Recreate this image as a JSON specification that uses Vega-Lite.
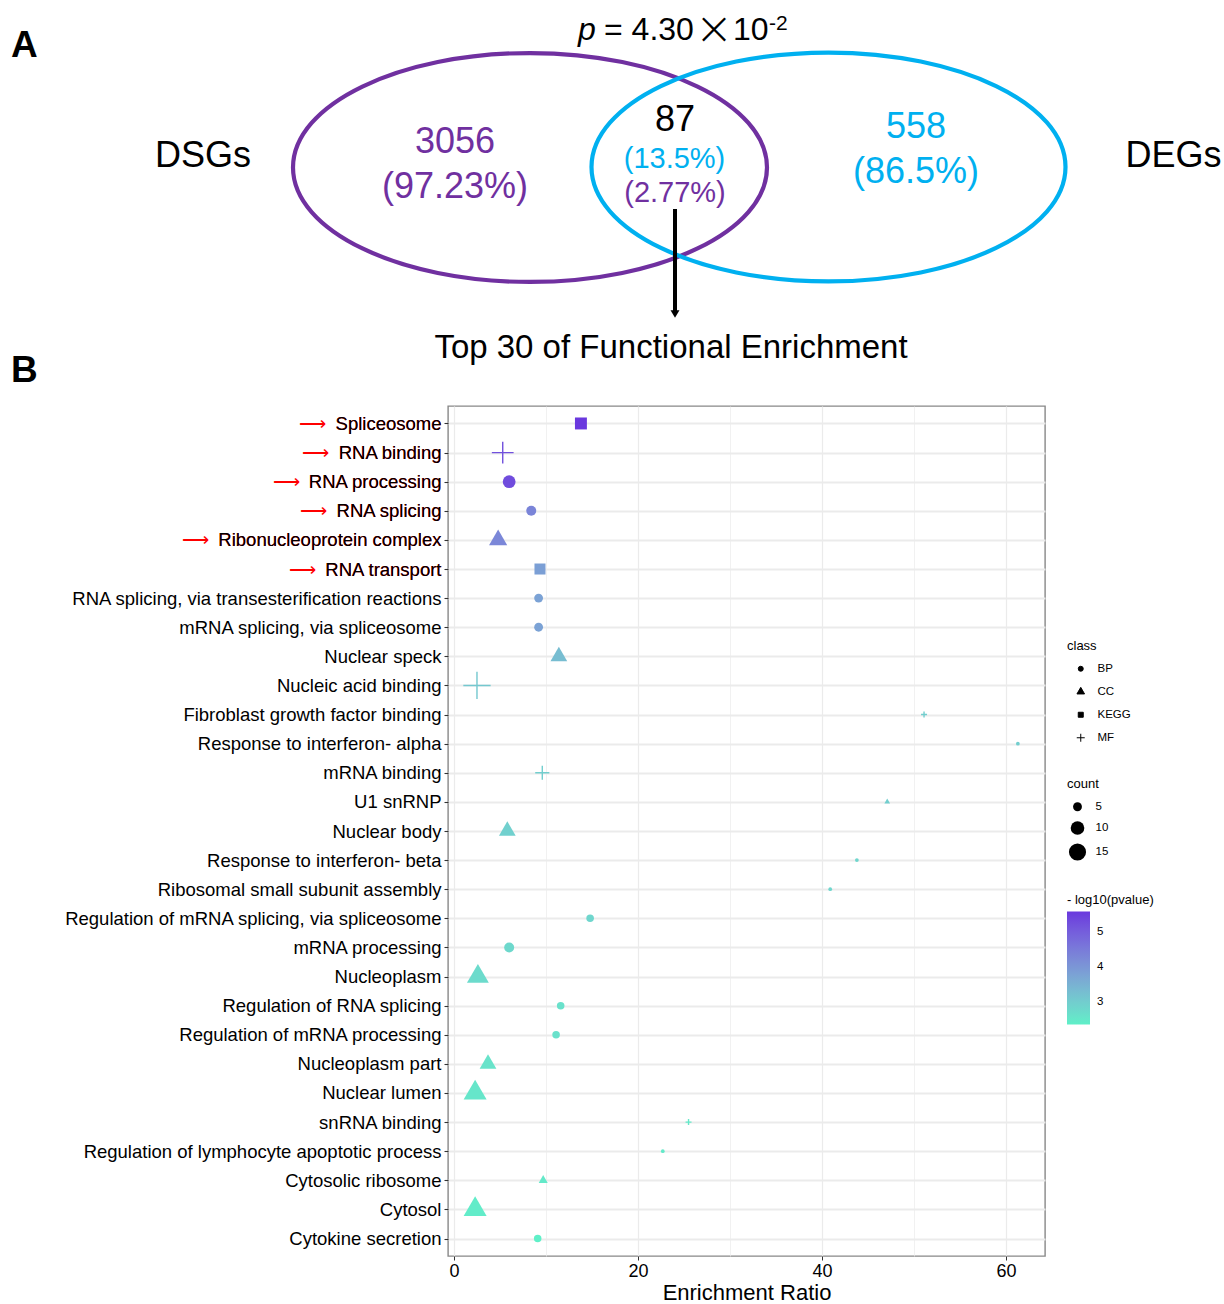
{
  "$schema": "https://vega.github.io/schema/vega-lite/v6.json",
  "background": "white",
  "padding": {"left": 11, "top": 0, "right": 0, "bottom": 0},
  "autosize": {"type": "pad"},
  "spacing": 0,
  "bounds": "flush",
  "config": {
    "font": "Liberation Sans",
    "axis": {"labelColor": "black", "titleColor": "black", "titleFontWeight": "normal", "labelLimit": 0},
    "legend": {"titleFontWeight": "normal", "titleColor": "black", "labelColor": "black", "padding": 0}
  },
  "resolve": {
    "scale": {"color": "independent", "size": "independent", "shape": "independent", "stroke": "independent"},
    "legend": {"color": "independent", "size": "independent", "shape": "independent"}
  },
  "vconcat": [
    {
      "width": 776,
      "height": 406,
      "view": {"stroke": null},
      "encoding": {
        "x": {"field": "x", "type": "quantitative", "scale": {"domain": [0, 122.4], "range": [-448, 776], "nice": false, "zero": false}, "axis": null},
        "y": {"field": "y", "type": "quantitative", "scale": {"domain": [0, 40.6], "range": [0, 406], "nice": false, "zero": false}, "axis": null}
      },
      "layer": [
        {
          "data": {"values": [
            {"set": "DSGs", "x": 53.0, "y": 16.75},
            {"set": "DEGs", "x": 82.85, "y": 16.7}
          ]},
          "mark": {"type": "point", "filled": false, "opacity": 1, "strokeWidth": 4.2, "size": 224676, "shape": "M-1,0A1,0.483 0 1 1 1,0A1,0.483 0 1 1 -1,0Z"},
          "encoding": {
            "stroke": {"field": "set", "type": "nominal", "scale": {"domain": ["DSGs", "DEGs"], "range": ["#7030A0", "#00B0F0"]}, "legend": null}
          }
        },
        {
          "data": {"values": [
            {"x": 67.5, "y": 20.9, "y2": 31.2}
          ]},
          "mark": {"type": "rule", "color": "black", "strokeWidth": 4},
          "encoding": {"y2": {"field": "y2"}}
        },
        {
          "data": {"values": [
            {"x": 67.5, "y": 31.4}
          ]},
          "mark": {"type": "point", "shape": "triangle-down", "filled": true, "color": "black", "opacity": 1, "size": 80},
          "encoding": {}
        },
        {
          "data": {"values": [
            {"label": "DSGs", "set": "name", "x": 20.3, "y": 16.7},
            {"label": "DEGs", "set": "name", "x": 117.35, "y": 16.7},
            {"label": "3056", "set": "DSGs", "x": 45.5, "y": 15.3},
            {"label": "(97.23%)", "set": "DSGs", "x": 45.5, "y": 19.8},
            {"label": "87", "set": "name", "x": 67.5, "y": 13.1},
            {"label": "558", "set": "DEGs", "x": 91.6, "y": 13.8},
            {"label": "(86.5%)", "set": "DEGs", "x": 91.6, "y": 18.3}
          ]},
          "mark": {"type": "text", "fontSize": 36, "align": "center", "baseline": "alphabetic"},
          "encoding": {
            "text": {"field": "label"},
            "color": {"field": "set", "type": "nominal", "scale": {"domain": ["DSGs", "DEGs", "name"], "range": ["#7030A0", "#00B0F0", "#000000"]}, "legend": null}
          }
        },
        {
          "data": {"values": [
            {"label": "(13.5%)", "set": "DEGs", "x": 67.45, "y": 16.8},
            {"label": "(2.77%)", "set": "DSGs", "x": 67.5, "y": 20.2}
          ]},
          "mark": {"type": "text", "fontSize": 29, "align": "center", "baseline": "alphabetic"},
          "encoding": {
            "text": {"field": "label"},
            "color": {"field": "set", "type": "nominal", "scale": {"domain": ["DSGs", "DEGs", "name"], "range": ["#7030A0", "#00B0F0", "#000000"]}, "legend": null}
          }
        },
        {
          "data": {"values": [
            {"label": "Top 30 of Functional Enrichment", "x": 67.1, "y": 35.8}
          ]},
          "mark": {"type": "text", "fontSize": 33, "align": "center", "baseline": "alphabetic", "color": "black"},
          "encoding": {"text": {"field": "label"}}
        },
        {
          "data": {"values": [
            {"label": "A", "x": 1.1, "y": 5.7},
            {"label": "B", "x": 1.1, "y": 38.2}
          ]},
          "mark": {"type": "text", "fontSize": 37, "fontWeight": "bold", "align": "left", "baseline": "alphabetic", "color": "black"},
          "encoding": {"text": {"field": "label"}}
        },
        {
          "data": {"values": [
            {"label": "p", "x": 57.8, "y": 4.0}
          ]},
          "mark": {"type": "text", "fontSize": 32, "fontStyle": "italic", "align": "left", "baseline": "alphabetic", "color": "black"},
          "encoding": {"text": {"field": "label"}}
        },
        {
          "data": {"values": [
            {"label": "= 4.30", "x": 60.4, "y": 4.0},
            {"label": "10", "x": 73.3, "y": 4.0}
          ]},
          "mark": {"type": "text", "fontSize": 32, "align": "left", "baseline": "alphabetic", "color": "black"},
          "encoding": {"text": {"field": "label"}}
        },
        {
          "data": {"values": [
            {"label": "×", "x": 71.4, "y": 4.4}
          ]},
          "mark": {"type": "text", "font": "DejaVu Sans", "fontSize": 46, "fontWeight": 200, "align": "center", "baseline": "alphabetic", "color": "black"},
          "encoding": {"text": {"field": "label"}}
        },
        {
          "data": {"values": [
            {"label": "-2", "x": 76.9, "y": 3.0}
          ]},
          "mark": {"type": "text", "fontSize": 21, "align": "left", "baseline": "alphabetic", "color": "black"},
          "encoding": {"text": {"field": "label"}}
        }
      ]
    },
    {
      "width": 597,
      "height": 850,
      "view": {"stroke": "#888888", "strokeWidth": 1.4},
      "data": {"values": [
        {"term": "Spliceosome", "class": "KEGG", "ratio": 13.8, "count": 8, "nlogp": 5.6},
        {"term": "RNA binding", "class": "MF", "ratio": 5.3, "count": 10, "nlogp": 5.25},
        {"term": "RNA processing", "class": "BP", "ratio": 6.0, "count": 9, "nlogp": 5.3},
        {"term": "RNA splicing", "class": "BP", "ratio": 8.4, "count": 6, "nlogp": 4.35},
        {"term": "Ribonucleoprotein complex", "class": "CC", "ratio": 4.8, "count": 8, "nlogp": 4.3},
        {"term": "RNA transport", "class": "KEGG", "ratio": 9.35, "count": 7, "nlogp": 3.85},
        {"term": "RNA splicing, via transesterification reactions", "class": "BP", "ratio": 9.2, "count": 5, "nlogp": 3.8},
        {"term": "mRNA splicing, via spliceosome", "class": "BP", "ratio": 9.2, "count": 5, "nlogp": 3.8},
        {"term": "Nuclear speck", "class": "CC", "ratio": 11.4, "count": 7, "nlogp": 3.3},
        {"term": "Nucleic acid binding", "class": "MF", "ratio": 2.5, "count": 15, "nlogp": 3.1},
        {"term": "Fibroblast growth factor binding", "class": "MF", "ratio": 51.1, "count": 2, "nlogp": 3.0},
        {"term": "Response to interferon- alpha", "class": "BP", "ratio": 61.3, "count": 2, "nlogp": 3.0},
        {"term": "mRNA binding", "class": "MF", "ratio": 9.6, "count": 5, "nlogp": 3.0},
        {"term": "U1 snRNP", "class": "CC", "ratio": 47.1, "count": 2, "nlogp": 3.0},
        {"term": "Nuclear body", "class": "CC", "ratio": 5.8, "count": 7, "nlogp": 2.95},
        {"term": "Response to interferon- beta", "class": "BP", "ratio": 43.8, "count": 2, "nlogp": 2.85},
        {"term": "Ribosomal small subunit assembly", "class": "BP", "ratio": 40.9, "count": 2, "nlogp": 2.85},
        {"term": "Regulation of mRNA splicing, via spliceosome", "class": "BP", "ratio": 14.8, "count": 4, "nlogp": 2.85},
        {"term": "mRNA processing", "class": "BP", "ratio": 6.0, "count": 6, "nlogp": 2.8},
        {"term": "Nucleoplasm", "class": "CC", "ratio": 2.6, "count": 11, "nlogp": 2.75},
        {"term": "Regulation of RNA splicing", "class": "BP", "ratio": 11.6, "count": 4, "nlogp": 2.65},
        {"term": "Regulation of mRNA processing", "class": "BP", "ratio": 11.1, "count": 4, "nlogp": 2.65},
        {"term": "Nucleoplasm part", "class": "CC", "ratio": 3.7, "count": 7, "nlogp": 2.6},
        {"term": "Nuclear lumen", "class": "CC", "ratio": 2.3, "count": 12, "nlogp": 2.55},
        {"term": "snRNA binding", "class": "MF", "ratio": 25.5, "count": 2, "nlogp": 2.5},
        {"term": "Regulation of lymphocyte apoptotic process", "class": "BP", "ratio": 22.7, "count": 2, "nlogp": 2.5},
        {"term": "Cytosolic ribosome", "class": "CC", "ratio": 9.7, "count": 3, "nlogp": 2.5},
        {"term": "Cytosol", "class": "CC", "ratio": 2.3, "count": 12, "nlogp": 2.45},
        {"term": "Cytokine secretion", "class": "BP", "ratio": 9.1, "count": 4, "nlogp": 2.37}
      ]},
      "encoding": {
        "x": {
          "field": "ratio", "type": "quantitative",
          "scale": {"domain": [-0.65, 64.25], "nice": false, "zero": false},
          "axis": {
            "values": [0, 10, 20, 30, 40, 50, 60],
            "labelExpr": "datum.value % 20 === 0 ? datum.label : ''",
            "tickOpacity": {"condition": {"test": "datum.value % 20 !== 0", "value": 0}, "value": 1},
            "gridWidth": {"condition": {"test": "datum.value % 20 !== 0", "value": 0.7}, "value": 1.2},
            "gridColor": "#ebebeb",
            "tickColor": "#333333",
            "tickSize": 4,
            "labelFontSize": 18,
            "labelPadding": 2,
            "domain": false,
            "title": "Enrichment Ratio",
            "titleFontSize": 22,
            "titlePadding": 2
          }
        },
        "size": {
          "field": "count", "type": "quantitative",
          "scale": {"domain": [2, 15], "range": [14, 293], "zero": false},
          "legend": {"title": "count", "orient": "none", "legendX": 619, "legendY": 372, "values": [5, 10, 15], "symbolType": "circle", "symbolFillColor": "black", "symbolStrokeWidth": 0, "titleFontSize": 13, "titlePadding": 10, "labelFontSize": 11.5, "rowPadding": 8, "symbolOffset": 1.5, "labelOffset": 9}
        },
        "shape": {
          "field": "class", "type": "nominal",
          "scale": {"domain": ["BP", "CC", "KEGG", "MF"], "range": ["circle", "M0,-1.755L1.52,0.877L-1.52,0.877Z", "square", "M-1.596,0L1.596,0M0,-1.596L0,1.596"]},
          "legend": {"title": "class", "orient": "none", "legendX": 619, "legendY": 234, "titleFontSize": 13, "titlePadding": 10, "labelFontSize": 11.5, "symbolSize": 25, "symbolFillColor": "black", "symbolStrokeColor": "black", "symbolStrokeWidth": 1, "rowPadding": 10, "symbolOffset": 8, "labelOffset": 11}
        }
      },
      "layer": [
        {
          "transform": [{"filter": "datum['class'] !== 'MF'"}],
          "mark": {"type": "point", "filled": true, "opacity": 1, "strokeWidth": 0},
          "encoding": {
            "color": {
              "field": "nlogp", "type": "quantitative",
              "scale": {"domain": [2.37, 5.6], "range": ["#5ff0c8", "#6a38de"], "interpolate": "lab"},
              "legend": {"title": "- log10(pvalue)", "orient": "none", "legendX": 619, "legendY": 488, "direction": "vertical", "gradientLength": 113, "gradientThickness": 23, "values": [3, 4, 5], "format": "d", "titleFontSize": 13, "titlePadding": 4.5, "labelFontSize": 11.5, "labelOffset": 7, "gradientStrokeWidth": 0}
            },
            "y": {
              "field": "term", "type": "nominal", "sort": null,
              "scale": {"type": "point", "padding": 0.6, "domain": ["Spliceosome", "RNA binding", "RNA processing", "RNA splicing", "Ribonucleoprotein complex", "RNA transport", "RNA splicing, via transesterification reactions", "mRNA splicing, via spliceosome", "Nuclear speck", "Nucleic acid binding", "Fibroblast growth factor binding", "Response to interferon- alpha", "mRNA binding", "U1 snRNP", "Nuclear body", "Response to interferon- beta", "Ribosomal small subunit assembly", "Regulation of mRNA splicing, via spliceosome", "mRNA processing", "Nucleoplasm", "Regulation of RNA splicing", "Regulation of mRNA processing", "Nucleoplasm part", "Nuclear lumen", "snRNA binding", "Regulation of lymphocyte apoptotic process", "Cytosolic ribosome", "Cytosol", "Cytokine secretion"]},
              "axis": {
                "orient": "left", "title": null, "zindex": 0,
                "labelExpr": "indexof(['Spliceosome','RNA binding','RNA processing','RNA splicing','Ribonucleoprotein complex','RNA transport'], datum.value) >= 0 ? '⟶\u2002' + datum.label : ''",
                "labelColor": "#ff0000", "labelFontSize": 18.5, "labelPadding": 3,
                "ticks": true, "tickOpacity": 0, "tickSize": 4,
                "domain": false, "grid": true, "gridColor": "#ebebeb", "gridWidth": 1.8
              }
            }
          }
        },
        {
          "transform": [{"filter": "datum['class'] === 'MF'"}],
          "mark": {"type": "point", "filled": false, "opacity": 1, "strokeWidth": 1.4},
          "encoding": {
            "stroke": {
              "field": "nlogp", "type": "quantitative",
              "scale": {"domain": [2.3699, 5.6001], "range": ["#5ff0c8", "#6a38de"], "interpolate": "lab"},
              "legend": null
            },
            "y": {
              "field": "term", "type": "nominal", "sort": null,
              "scale": {"type": "point", "padding": 0.6, "domain": ["Spliceosome", "RNA binding", "RNA processing", "RNA splicing", "Ribonucleoprotein complex", "RNA transport", "RNA splicing, via transesterification reactions", "mRNA splicing, via spliceosome", "Nuclear speck", "Nucleic acid binding", "Fibroblast growth factor binding", "Response to interferon- alpha", "mRNA binding", "U1 snRNP", "Nuclear body", "Response to interferon- beta", "Ribosomal small subunit assembly", "Regulation of mRNA splicing, via spliceosome", "mRNA processing", "Nucleoplasm", "Regulation of RNA splicing", "Regulation of mRNA processing", "Nucleoplasm part", "Nuclear lumen", "snRNA binding", "Regulation of lymphocyte apoptotic process", "Cytosolic ribosome", "Cytosol", "Cytokine secretion"]},
              "axis": {
                "orient": "left", "title": null, "zindex": 1,
                "labelColor": "black", "labelFontSize": 18.5, "labelPadding": 3,
                "ticks": true, "tickColor": "#333333", "tickSize": 4, "tickWidth": 1.1,
                "domain": false, "grid": false
              }
            }
          }
        }
      ],
      "resolve": {"axis": {"y": "independent"}}
    }
  ]
}
